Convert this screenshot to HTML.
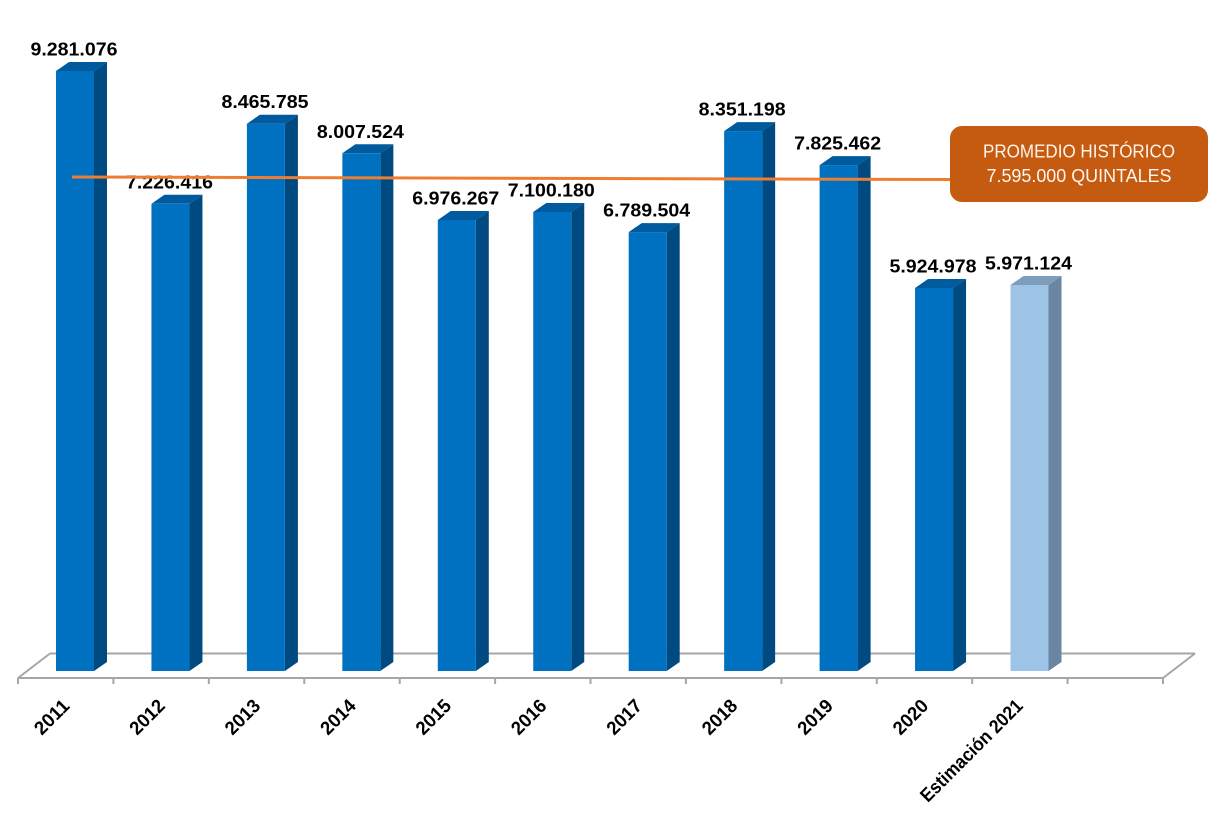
<!DOCTYPE html>
<html>
<head>
<meta charset="utf-8">
<style>
html,body{margin:0;padding:0;background:#fff;}
svg{display:block;}
</style>
</head>
<body>
<svg width="1216" height="830" viewBox="0 0 1216 830" xmlns="http://www.w3.org/2000/svg">
<rect width="1216" height="830" fill="#fff"/>
<g stroke="#A6A6A6" stroke-width="2" fill="none">
<line x1="50" y1="653.5" x2="1195" y2="653.5"/>
<line x1="18" y1="678" x2="1163" y2="678"/>
<line x1="18" y1="678" x2="50" y2="653.5"/>
<line x1="1163" y1="678" x2="1195" y2="653.5"/>
<line x1="18" y1="678" x2="18" y2="684"/>
<line x1="113.4" y1="678" x2="113.4" y2="684"/>
<line x1="208.8" y1="678" x2="208.8" y2="684"/>
<line x1="304.3" y1="678" x2="304.3" y2="684"/>
<line x1="399.7" y1="678" x2="399.7" y2="684"/>
<line x1="495.1" y1="678" x2="495.1" y2="684"/>
<line x1="590.5" y1="678" x2="590.5" y2="684"/>
<line x1="685.9" y1="678" x2="685.9" y2="684"/>
<line x1="781.4" y1="678" x2="781.4" y2="684"/>
<line x1="876.8" y1="678" x2="876.8" y2="684"/>
<line x1="972.2" y1="678" x2="972.2" y2="684"/>
<line x1="1067.6" y1="678" x2="1067.6" y2="684"/>
<line x1="1163" y1="678" x2="1163" y2="684"/>
</g>
<g>
<polygon points="56,71 94,71 107,62 69,62" fill="#005A9E"/>
<polygon points="94,71 107,62 107,662 94,671" fill="#004A82"/>
<rect x="56" y="71" width="38" height="600" fill="#0070C0"/>
<polygon points="151.45,203.8 189.45,203.8 202.45,194.8 164.45,194.8" fill="#005A9E"/>
<polygon points="189.45,203.8 202.45,194.8 202.45,662 189.45,671" fill="#004A82"/>
<rect x="151.45" y="203.8" width="38" height="467.2" fill="#0070C0"/>
<polygon points="246.9,123.7 284.9,123.7 297.9,114.7 259.9,114.7" fill="#005A9E"/>
<polygon points="284.9,123.7 297.9,114.7 297.9,662 284.9,671" fill="#004A82"/>
<rect x="246.9" y="123.7" width="38" height="547.3" fill="#0070C0"/>
<polygon points="342.35,153.3 380.35,153.3 393.35,144.3 355.35,144.3" fill="#005A9E"/>
<polygon points="380.35,153.3 393.35,144.3 393.35,662 380.35,671" fill="#004A82"/>
<rect x="342.35" y="153.3" width="38" height="517.7" fill="#0070C0"/>
<polygon points="437.8,220 475.8,220 488.8,211 450.8,211" fill="#005A9E"/>
<polygon points="475.8,220 488.8,211 488.8,662 475.8,671" fill="#004A82"/>
<rect x="437.8" y="220" width="38" height="451" fill="#0070C0"/>
<polygon points="533.25,212 571.25,212 584.25,203 546.25,203" fill="#005A9E"/>
<polygon points="571.25,212 584.25,203 584.25,662 571.25,671" fill="#004A82"/>
<rect x="533.25" y="212" width="38" height="459" fill="#0070C0"/>
<polygon points="628.7,232.1 666.7,232.1 679.7,223.1 641.7,223.1" fill="#005A9E"/>
<polygon points="666.7,232.1 679.7,223.1 679.7,662 666.7,671" fill="#004A82"/>
<rect x="628.7" y="232.1" width="38" height="438.9" fill="#0070C0"/>
<polygon points="724.15,131.1 762.15,131.1 775.15,122.1 737.15,122.1" fill="#005A9E"/>
<polygon points="762.15,131.1 775.15,122.1 775.15,662 762.15,671" fill="#004A82"/>
<rect x="724.15" y="131.1" width="38" height="539.9" fill="#0070C0"/>
<polygon points="819.6,165.1 857.6,165.1 870.6,156.1 832.6,156.1" fill="#005A9E"/>
<polygon points="857.6,165.1 870.6,156.1 870.6,662 857.6,671" fill="#004A82"/>
<rect x="819.6" y="165.1" width="38" height="505.9" fill="#0070C0"/>
<polygon points="915.05,288 953.05,288 966.05,279 928.05,279" fill="#005A9E"/>
<polygon points="953.05,288 966.05,279 966.05,662 953.05,671" fill="#004A82"/>
<rect x="915.05" y="288" width="38" height="383" fill="#0070C0"/>
<polygon points="1010.5,285 1048.5,285 1061.5,276 1023.5,276" fill="#7E9DBC"/>
<polygon points="1048.5,285 1061.5,276 1061.5,662 1048.5,671" fill="#6A86A2"/>
<rect x="1010.5" y="285" width="38" height="386" fill="#9DC3E6"/>
</g>
<g font-family="'Liberation Sans', Arial, sans-serif" font-weight="bold" font-size="18.5" fill="#000" text-anchor="middle">
<text x="74" y="55.5" textLength="87" lengthAdjust="spacingAndGlyphs">9.281.076</text>
<text x="169.5" y="188.3" textLength="87" lengthAdjust="spacingAndGlyphs">7.226.416</text>
<text x="265" y="108.2" textLength="87" lengthAdjust="spacingAndGlyphs">8.465.785</text>
<text x="360.4" y="137.8" textLength="87" lengthAdjust="spacingAndGlyphs">8.007.524</text>
<text x="455.8" y="204.5" textLength="87" lengthAdjust="spacingAndGlyphs">6.976.267</text>
<text x="551.3" y="196.5" textLength="87" lengthAdjust="spacingAndGlyphs">7.100.180</text>
<text x="646.7" y="216.6" textLength="87" lengthAdjust="spacingAndGlyphs">6.789.504</text>
<text x="742.2" y="115.6" textLength="87" lengthAdjust="spacingAndGlyphs">8.351.198</text>
<text x="837.6" y="149.6" textLength="87" lengthAdjust="spacingAndGlyphs">7.825.462</text>
<text x="933" y="272.5" textLength="87" lengthAdjust="spacingAndGlyphs">5.924.978</text>
<text x="1028.5" y="269.5" textLength="87" lengthAdjust="spacingAndGlyphs">5.971.124</text>
</g>
<line x1="72" y1="177" x2="952" y2="179.5" stroke="#ED7D31" stroke-width="3"/>
<rect x="950" y="126" width="258" height="76" rx="12" ry="12" fill="#C55A11"/>
<g font-family="'Liberation Sans', Arial, sans-serif" font-size="18" fill="#FFF5EC" text-anchor="middle">
<text x="1079" y="157.5" textLength="192" lengthAdjust="spacingAndGlyphs">PROMEDIO HISTÓRICO</text>
<text x="1079" y="182" textLength="185" lengthAdjust="spacingAndGlyphs">7.595.000 QUINTALES</text>
</g>
<g font-family="'Liberation Sans', Arial, sans-serif" font-weight="bold" font-size="19" fill="#000" text-anchor="end">
<text transform="translate(70.7,707) rotate(-45)" textLength="41" lengthAdjust="spacingAndGlyphs">2011</text>
<text transform="translate(166.1,707) rotate(-45)" textLength="41" lengthAdjust="spacingAndGlyphs">2012</text>
<text transform="translate(261.5,707) rotate(-45)" textLength="41" lengthAdjust="spacingAndGlyphs">2013</text>
<text transform="translate(357,707) rotate(-45)" textLength="41" lengthAdjust="spacingAndGlyphs">2014</text>
<text transform="translate(452.4,707) rotate(-45)" textLength="41" lengthAdjust="spacingAndGlyphs">2015</text>
<text transform="translate(547.8,707) rotate(-45)" textLength="41" lengthAdjust="spacingAndGlyphs">2016</text>
<text transform="translate(643.2,707) rotate(-45)" textLength="41" lengthAdjust="spacingAndGlyphs">2017</text>
<text transform="translate(738.6,707) rotate(-45)" textLength="41" lengthAdjust="spacingAndGlyphs">2018</text>
<text transform="translate(834.1,707) rotate(-45)" textLength="41" lengthAdjust="spacingAndGlyphs">2019</text>
<text transform="translate(929.5,707) rotate(-45)" textLength="41" lengthAdjust="spacingAndGlyphs">2020</text>
<text transform="translate(1024,707) rotate(-45)" textLength="136" lengthAdjust="spacingAndGlyphs">Estimación 2021</text>
</g>
</svg>
</body>
</html>
